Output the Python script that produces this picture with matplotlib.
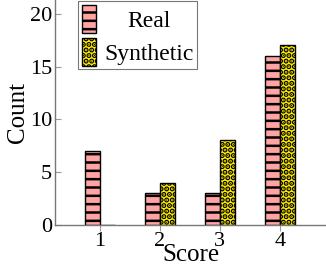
import matplotlib
matplotlib.use("Agg")
import matplotlib.pyplot as plt
import numpy as np

scores = [1, 2, 3, 4]
real = [7, 3, 3, 16]
synthetic = [0, 4, 8, 17]
yticks = [0, 5, 10, 15, 20]

plt.rcParams['font.family'] = ['Liberation Serif', 'DejaVu Serif']
plt.rcParams['hatch.linewidth'] = 1.8

fig = plt.figure(figsize=(3.26, 2.68), dpi=100)
ax = fig.add_axes([55/326, 43/268, 271/326, 225/268])

x = np.array(scores, dtype=float)
w = 0.245
ax.bar(x - w/2, real, width=w, color='#FFA3A3', edgecolor='black', hatch='--', linewidth=1.0, label='Real')
syn = ax.bar(x + w/2, synthetic, width=w, color='#FFEE00', edgecolor='black', hatch='...', linewidth=1.0, label='Synthetic')
DOT_LW = 2.7
for p in syn:
    try:
        p.set_hatch_linewidth(DOT_LW)
    except AttributeError:
        pass

ax.set_xlim(0.25, 4.77)
ax.set_ylim(0, 21.3)
ax.set_xticks(scores)
ax.set_yticks(yticks)
ax.tick_params(axis='both', labelsize=16, color='#999999', length=4, width=0.8)
ax.tick_params(axis='y', direction='in', pad=2)
ax.tick_params(axis='x', direction='out', pad=1)
for s in ['top', 'right']:
    ax.spines[s].set_visible(False)
for s in ['left', 'bottom']:
    ax.spines[s].set_color('#777777')
    ax.spines[s].set_linewidth(1.0)

ax.set_ylabel('Count', fontsize=18, labelpad=1)
ax.set_xlabel('Score', fontsize=18, labelpad=-5)

leg = ax.legend(loc='upper left', bbox_to_anchor=(0.085, 0.995), fontsize=17, frameon=True, fancybox=False,
                edgecolor='#555555', handlelength=0.6, handleheight=1.45, borderaxespad=0.0, labelspacing=0.22,
                handletextpad=0.35, borderpad=0.15)
leg.get_frame().set_linewidth(0.8)
for h in leg.legend_handles[1:]:
    try:
        h.set_hatch_linewidth(DOT_LW)
    except AttributeError:
        pass

# center the legend texts in their column
fig.canvas.draw()
texts = leg.get_texts()
r = fig.canvas.get_renderer()
widths = [t.get_window_extent(r).width for t in texts]
wmax = max(widths)
for t, wd in zip(texts, widths):
    t.set_position(((wmax - wd) / 2, 0))

fig.savefig('out.png', dpi=100)
